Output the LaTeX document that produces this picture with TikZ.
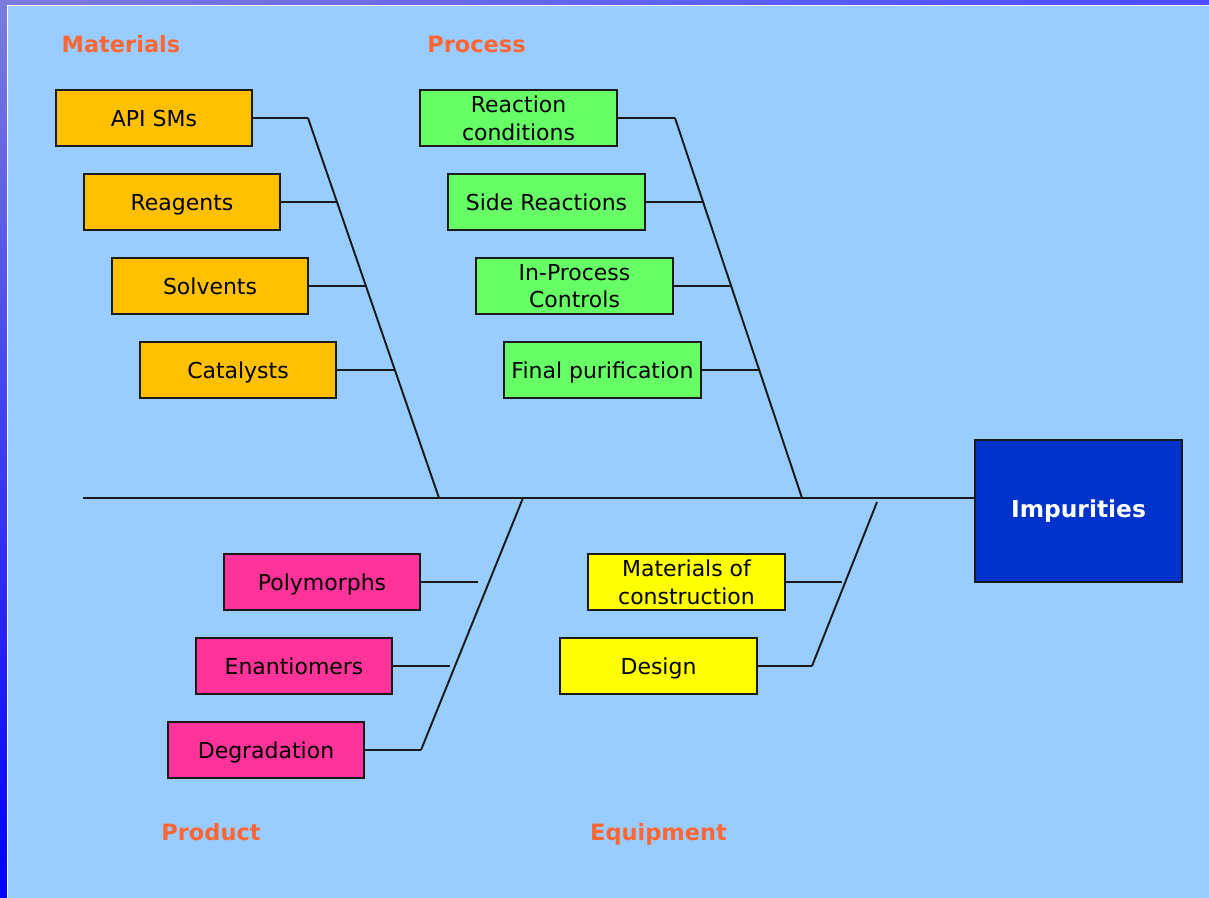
\documentclass[tikz,border=0pt]{standalone}
\usepackage{fontspec}
\setmainfont{DejaVu Sans}
\definecolor{panel}{HTML}{99CCFF}
\definecolor{stripA}{HTML}{7B7BDD}
\definecolor{stripB}{HTML}{4B4BFF}
\definecolor{stripC}{HTML}{0000FF}
\definecolor{catorange}{HTML}{FF6633}
\definecolor{matfill}{HTML}{FFC000}
\definecolor{profill}{HTML}{66FF66}
\definecolor{prdfill}{HTML}{FF3399}
\definecolor{eqfill}{HTML}{FFFF00}
\definecolor{efffill}{HTML}{0033CC}
\definecolor{ink}{HTML}{1A1A1A}
\begin{document}
\begin{tikzpicture}[x=0.02cm,y=-0.02cm,
  causebox/.style={draw=ink, line width=1.1pt, minimum width=3.93cm,
    minimum height=1.12cm, inner sep=0pt, align=center, text depth=0pt,
    font=\fontsize{12.5}{15.9}\selectfont},
  matbox/.style={causebox, fill=matfill},
  probox/.style={causebox, fill=profill},
  prdbox/.style={causebox, fill=prdfill},
  eqbox/.style={causebox, fill=eqfill},
  effect/.style={draw=ink, line width=1.1pt, fill=efffill, text=white,
    minimum width=4.14cm, minimum height=2.84cm, inner sep=0pt,
    font=\fontsize{13.3}{16}\selectfont\bfseries},
  catlabel/.style={anchor=base, inner sep=0pt, text=catorange,
    font=\fontsize{12.8}{15}\selectfont\bfseries},
  bone/.style={draw=ink, line width=1.1pt}]
\useasboundingbox (0,0) rectangle (1209,898);

% slide frame and panel
\shade[top color=stripA, bottom color=stripC] (0,0) rectangle (8,898);
\shade[left color=stripA, right color=stripB] (0,0) rectangle (1209,6);
\draw[white, line width=0.6pt] (7.5,898) -- (7.5,5.5) -- (1209,5.5);
\fill[panel] (8,6) rectangle (1209,898);

% category labels
\node[catlabel] (lmat) at (121,52.5) {Materials};
\node[catlabel] (lpro) at (476.5,52.5) {Process};
\node[catlabel] (lprd) at (211,840) {Product};
\node[catlabel] (leq)  at (658.5,840) {Equipment};

% cause boxes
\node[matbox] (api) at (154,118) {API SMs};
\node[matbox] (rea) at (182,202) {Reagents};
\node[matbox] (sol) at (210,286) {Solvents};
\node[matbox] (cat) at (238,370) {Catalysts};

\node[probox] (rc)  at (518.5,118) {Reaction\\conditions};
\node[probox] (sr)  at (546.5,202) {Side Reactions};
\node[probox] (ipc) at (574.5,286) {In-Process\\Controls};
\node[probox] (fp)  at (602.5,370) {Final purification};

\node[prdbox] (pol) at (322,582) {Polymorphs};
\node[prdbox] (ena) at (294,666) {Enantiomers};
\node[prdbox] (deg) at (266,750) {Degradation};

\node[eqbox] (moc) at (686.5,582) {Materials of\\construction};
\node[eqbox] (des) at (658.5,666) {Design};

% effect
\node[effect] (imp) at (1078.5,511) {Impurities};

% bone end points
\coordinate (m0) at (308,118);
\coordinate (m1) at (337,202);
\coordinate (m2) at (366,286);
\coordinate (m3) at (395,370);
\coordinate (mE) at (439,498);

\coordinate (p0) at (675,118);
\coordinate (p1) at (703,202);
\coordinate (p2) at (731,286);
\coordinate (p3) at (759,370);
\coordinate (pE) at (802,498);

\coordinate (d0) at (523,498);
\coordinate (d1) at (477.5,582);
\coordinate (d2) at (450,666);
\coordinate (d3) at (421,750);

\coordinate (e0) at (877,502);
\coordinate (e1) at (842,582);
\coordinate (e2) at (812,666);

\coordinate (tail) at (83,498);

% spine
\draw[bone] (tail) -- (tail -| imp.west);

% materials branch
\draw[bone] (m0) -- (mE);
\draw[bone] (api) -- (m0);
\draw[bone] (rea) -- (m1);
\draw[bone] (sol) -- (m2);
\draw[bone] (cat) -- (m3);

% process branch
\draw[bone] (p0) -- (pE);
\draw[bone] (rc)  -- (p0);
\draw[bone] (sr)  -- (p1);
\draw[bone] (ipc) -- (p2);
\draw[bone] (fp)  -- (p3);

% product branch
\draw[bone] (d0) -- (d3);
\draw[bone] (pol) -- (d1);
\draw[bone] (ena) -- (d2);
\draw[bone] (deg) -- (d3);

% equipment branch
\draw[bone] (e0) -- (e2);
\draw[bone] (moc) -- (e1);
\draw[bone] (des) -- (e2);
\end{tikzpicture}
\end{document}
